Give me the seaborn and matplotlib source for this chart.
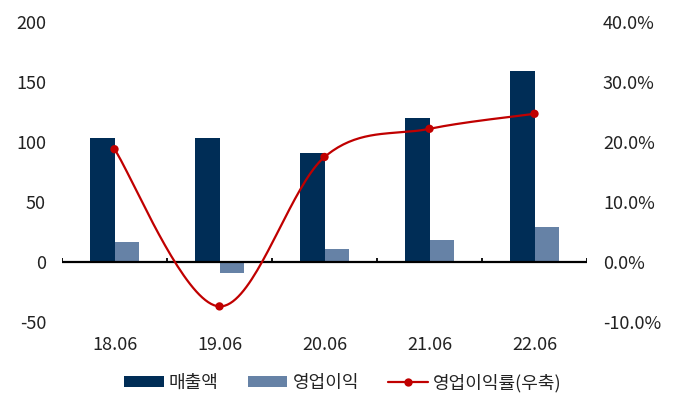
import numpy as np
import pandas as pd
import matplotlib
matplotlib.use("Agg")
import matplotlib.pyplot as plt
import seaborn as sns
from matplotlib.patches import Patch
from matplotlib.lines import Line2D
from matplotlib.ticker import FuncFormatter

categories = ["18.06", "19.06", "20.06", "21.06", "22.06"]
sales = [103, 103, 91, 120, 159]
op_profit = [16.5, -9, 10.5, 18, 29]
op_margin = [18.8, -7.4, 17.5, 22.2, 24.7]

sns.set_style("white")
plt.rcParams["font.family"] = ["Noto Sans CJK KR", "DejaVu Sans"]
plt.rcParams["axes.unicode_minus"] = False

NAVY = "#002D56"
STEEL = "#6682A6"
RED = "#C00000"
TXT = "#222222"

df = pd.DataFrame({
    "cat": categories * 2,
    "series": ["매출액"] * 5 + ["영업이익"] * 5,
    "value": sales + op_profit,
})

fig = plt.figure(figsize=(6.79, 4.13), dpi=100)
ax = fig.add_axes([62/679, 1-322/413, (587-62)/679, 300/413])
sns.barplot(data=df, x="cat", y="value", hue="series", order=categories,
            palette=[NAVY, STEEL], width=0.476, gap=0, ax=ax, legend=False,
            saturation=1, edgecolor="none", linewidth=0)
ax.set_xlim(-0.5, 4.5)
ax.set_ylim(-50, 200)
ax.set_yticks([-50, 0, 50, 100, 150, 200])
ax.set_xlabel("")
ax.set_ylabel("")
for s in ["top", "right", "left", "bottom"]:
    ax.spines[s].set_visible(False)
ax.axhline(0, color="black", lw=1.6, zorder=3)
for b in np.arange(-0.5, 5.0, 1.0):
    ax.plot([b, b], [0, 3.5], color="black", lw=1.3, zorder=3, solid_capstyle="butt")
ax.tick_params(axis="x", length=0, pad=10, labelsize=13, colors=TXT)
ax.tick_params(axis="y", length=0, pad=11.5, labelsize=13, colors=TXT)

ax2 = ax.twinx()
ax2.set_ylim(-10, 40)
ax2.set_yticks([-10, 0, 10, 20, 30, 40])
ax2.yaxis.set_major_formatter(FuncFormatter(lambda v, p: f"{v:.1f}%"))
ax2.tick_params(axis="y", length=0, pad=11.5, labelsize=13, colors=TXT)
for s in ["top", "right", "left", "bottom"]:
    ax2.spines[s].set_visible(False)

# smooth curve (Catmull-Rom) through the margin points
xs = np.arange(len(categories), dtype=float)
ys = np.array(op_margin, dtype=float)
px = np.concatenate([[xs[0]], xs, [xs[-1]]])
py = np.concatenate([[ys[0]], ys, [ys[-1]]])
cx, cy = [], []
t = np.linspace(0, 1, 40)
for i in range(1, len(px) - 2):
    p0, p1, p2, p3 = [np.array([px[j], py[j]]) for j in (i-1, i, i+1, i+2)]
    for tt in t:
        pt = 0.5 * ((2*p1) + (-p0 + p2)*tt + (2*p0 - 5*p1 + 4*p2 - p3)*tt**2 + (-p0 + 3*p1 - 3*p2 + p3)*tt**3)
        cx.append(pt[0]); cy.append(pt[1])
ax2.plot(cx, cy, color=RED, lw=1.6, zorder=4)
sns.scatterplot(x=xs, y=ys, color=RED, s=36, edgecolor="none", ax=ax2, zorder=5)

handles = [
    Patch(facecolor=NAVY, edgecolor="none"),
    Patch(facecolor=STEEL, edgecolor="none"),
    Line2D([0], [0], color=RED, lw=1.6, marker="o", markersize=6, markeredgewidth=0),
]
fig.legend(handles, ["매출액", "영업이익", "영업이익률(우축)"], loc="center",
           bbox_to_anchor=(0.505, 1-383/413), ncol=3, frameon=False,
           fontsize=13, handlelength=2.2, handleheight=0.55, columnspacing=1.6,
           handletextpad=0.3, labelcolor=TXT)

fig.savefig("out.png", dpi=100)
